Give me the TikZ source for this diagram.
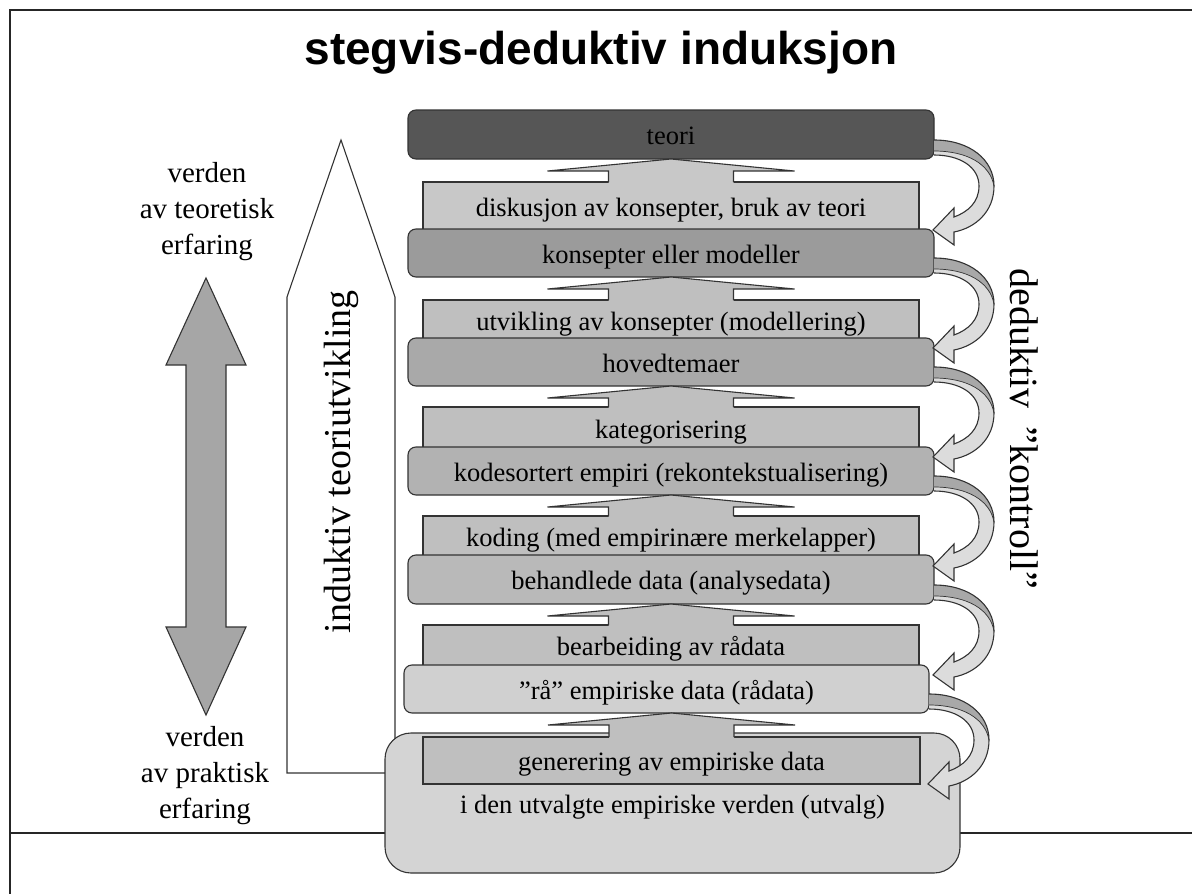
\documentclass[tikz,border=0pt]{standalone}
\usepackage{fontspec}
\setmainfont{Liberation Serif}
\newfontfamily\headfont{Liberation Sans}
\usetikzlibrary{calc}

\definecolor{theorygray}{HTML}{565656}
\definecolor{modelgray}{HTML}{9B9B9B}
\definecolor{themegray}{HTML}{A9A9A9}
\definecolor{codegray}{HTML}{B2B2B2}
\definecolor{datagray}{HTML}{B9B9B9}
\definecolor{rawgray}{HTML}{D0D0D0}
\definecolor{fieldgray}{HTML}{D4D4D4}
\definecolor{workgray}{HTML}{BFBFBF}
\definecolor{discgray}{HTML}{C8C8C8}
\definecolor{bigarrowgray}{HTML}{A6A6A6}
\definecolor{ribbonlight}{HTML}{DCDCDC}
\definecolor{ribbondark}{HTML}{A8A8A8}
\definecolor{edgegray}{HTML}{333333}

% up arrow from a work step (#2) into the stage above it (#1)
\newcommand\stepup[3]{%
  \path (#2.north |- #1.south) coordinate (apex);
  \fill[#3] ($(#2.north)+(-62.5,1.2)$) -- ($(apex)+(-62.5,12)$) -- ($(apex)+(-123.5,12)$)
    -- (apex) -- ($(apex)+(123.5,12)$) -- ($(apex)+(62.5,12)$) -- ($(#2.north)+(62.5,1.2)$) -- cycle;
  \draw[edge] ($(#2.north)+(-62.5,0)$) -- ($(apex)+(-62.5,12)$) -- ($(apex)+(-123.5,12)$)
    -- (apex) -- ($(apex)+(123.5,12)$) -- ($(apex)+(62.5,12)$) -- ($(#2.north)+(62.5,0)$);
}

\tikzset{
  pics/checkback/.style={code={
    \fill[ribbonlight] (0,0) .. controls (36,0) and (60,20) .. (60,46)
      .. controls (60,72) and (41,88) .. (20,92) -- (20,105) -- (-1,90) -- (20,68) -- (20,77)
      .. controls (34,72) and (45,62) .. (45,46) .. controls (45,27) and (26,15) .. (0,15) -- cycle;
    \fill[ribbondark] (0,0) .. controls (36,0) and (60,20) .. (60,46)
      .. controls (56,24) and (33,11) .. (0,11) -- cycle;
    \draw[edge, line width=0.7pt] (60,46) .. controls (56,24) and (33,11) .. (0,11);
    \draw[edge] (0,0) .. controls (36,0) and (60,20) .. (60,46)
      .. controls (60,72) and (41,88) .. (20,92) -- (20,105) -- (-1,90) -- (20,68) -- (20,77)
      .. controls (34,72) and (45,62) .. (45,46) .. controls (45,27) and (26,15) .. (0,15);
  }}
}

\begin{document}
\begin{tikzpicture}[x=1pt,y=-1pt,
  every node/.style={inner sep=0pt, outer sep=0pt},
  edge/.style={draw=edgegray, line width=1.1pt, line join=miter},
  boxfont/.style={font=\fontsize{26.5}{30}\selectfont},
  stage/.style={edge, rounded corners=8pt, minimum width=526pt, boxfont, text height=24pt, text depth=4pt},
  work/.style={edge, fill=workgray, minimum width=496pt, boxfont, text height=22pt, text depth=6pt},
  sidelabel/.style={align=center, font=\fontsize{29}{34}\selectfont},
  biglabel/.style={font=\fontsize{38}{40}\selectfont}
]
\useasboundingbox (0,0) rectangle (1192,894);

% frame and ground line
\draw[line width=1.8pt, black!85] (10,894) -- (10,10) -- (1192,10);
\draw[line width=1.8pt, black!85] (10,833) -- (1192,833);

% title
\node[anchor=base, font=\headfont\bfseries\fontsize{46}{50}\selectfont] (title) at (601,64) {stegvis-deduktiv induksjon};

% inductive theory development arrow
\draw[draw=edgegray, line width=1.1pt, fill=white] (287,773) -- (287,297) -- (341,140) -- (395,297) -- (395,773) -- cycle;
\node[biglabel, rotate=90] (ind) at (341,462) {induktiv teoriutvikling};

% double arrow between the two worlds
\draw[edge, fill=bigarrowgray] (206,278) -- (246,365) -- (226,365) -- (226,627) -- (246,627) -- (206,715)
  -- (166,627) -- (186,627) -- (186,365) -- (166,365) -- cycle;
\node[sidelabel] (theoworld) at (207,212) {verden\\[2pt]av teoretisk\\[2pt]erfaring};
\node[sidelabel] (pracworld) at (205,776) {verden\\[2pt]av praktisk\\[2pt]erfaring};

% deductive control label
\node[font=\fontsize{40}{42}\selectfont, rotate=-90] (ded) at (1024,429) {deduktiv\hspace{0.45em}”kontroll”};

% empirical field
\node[stage, rounded corners=26pt, fill=fieldgray, minimum width=575pt, minimum height=140pt] (W) at (672.5,803)
  {i den utvalgte empiriske verden (utvalg)};

% work steps
\node[work, fill=discgray, minimum height=52pt] (D) at (671,208) {diskusjon av konsepter, bruk av teori};
\node[work, minimum height=44pt] (U) at (671,322) {utvikling av konsepter (modellering)};
\node[work, minimum height=46pt] (Ka) at (671,430) {kategorisering};
\node[work, minimum height=44pt] (Kod) at (671,538) {koding (med empirinære merkelapper)};
\node[work, minimum height=44pt] (Be) at (671,647) {bearbeiding av rådata};
\node[work, minimum width=497pt, minimum height=47pt] (G) at (671.5,760.5) {\raisebox{-1.5pt}{generering av empiriske data}};

% stages
\node[stage, fill=theorygray, minimum height=49pt] (T) at (671,134.5) {teori};
\node[stage, fill=modelgray, minimum height=48pt] (K) at (671,253) {konsepter eller modeller};
\node[stage, fill=themegray, minimum height=48pt] (H) at (671,362) {hovedtemaer};
\node[stage, fill=codegray, minimum height=48pt] (Ko) at (671,471) {kodesortert empiri (rekontekstualisering)};
\node[stage, fill=datagray, minimum height=49pt] (B) at (671,579.5) {behandlede data (analysedata)};
\node[stage, fill=rawgray, minimum width=525pt, minimum height=48pt] (R) at (666.5,689) {”rå” empiriske data (rådata)};

% inductive steps upwards
\stepup{T}{D}{discgray}
\stepup{K}{U}{workgray}
\stepup{H}{Ka}{workgray}
\stepup{Ko}{Kod}{workgray}
\stepup{B}{Be}{workgray}
\stepup{R}{G}{workgray}

% deductive checks back down
\pic at ($(T.south east)+(0,-19)$) {checkback};
\pic at ($(K.south east)+(0,-19)$) {checkback};
\pic at ($(H.south east)+(0,-19)$) {checkback};
\pic at ($(Ko.south east)+(0,-19)$) {checkback};
\pic at ($(B.south east)+(0,-19)$) {checkback};
\pic at ($(R.south east)+(0,-19)$) {checkback};

\end{tikzpicture}
\end{document}
